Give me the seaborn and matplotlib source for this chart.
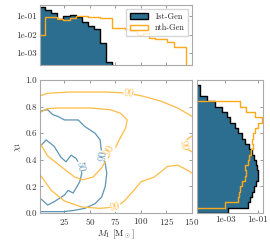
import numpy as np
import pandas as pd
import matplotlib
matplotlib.use("Agg")
import matplotlib.pyplot as plt
import seaborn as sns
from matplotlib.patches import Patch
from matplotlib.ticker import FuncFormatter, FixedLocator, NullLocator

# Histogram data
mass_edges = np.arange(0, 151, 6)
first_mass = [0.29, 0.21, 0.15, 0.069, 0.10, 0.11, 0.092, 0.046, 0.030, 0.019, 0.0035, 0.00036,
              0, 0, 0, 0, 0, 0, 0, 0, 0, 0, 0, 0, 0]
nth_mass = [0.010, 0.092, 0.092, 0.069, 0.061, 0.075, 0.10, 0.10, 0.085, 0.085, 0.075, 0.075,
            0.022, 0.022, 0.019, 0.016, 0.0096, 0.0118, 0.0064, 0.0056, 0.0056, 0.0042, 0.0021, 0.0021, 0]

chi_edges = np.linspace(0, 1, 26)
first_chi = [0.0016, 0.026, 0.033, 0.046, 0.060, 0.075, 0.096, 0.105, 0.083, 0.072, 0.057, 0.041,
             0.028, 0.016, 0.0103, 0.0064, 0.0041, 0.0020, 0.00126, 0.00063, 0.00025, 7.7e-5, 3e-5, 3e-5, 0]
nth_chi = [0, 0.001, 0.0059, 0.0074, 0.0081, 0.0103, 0.016, 0.020, 0.016, 0.025, 0.028, 0.036,
           0.052, 0.041, 0.052, 0.066, 0.105, 0.166, 0.066, 0.020, 0.0081, 0, 0, 0, 0]

# Contour paths (M1, chi1)
first_50 = [(0, 0.49), (7, 0.55), (13.5, 0.51), (15, 0.50), (21.5, 0.42), (26.5, 0.385), (31.5, 0.435),
            (36.5, 0.41), (40, 0.36), (42, 0.30), (40, 0.235), (33.5, 0.15), (28.5, 0.17), (25, 0.135),
            (15, 0.085), (8.5, 0.06), (0, 0.12)]
first_90 = [(0, 0.765), (8.5, 0.777), (13.5, 0.74), (18.5, 0.727), (25, 0.70), (38.5, 0.70), (45, 0.65),
            (55, 0.60), (60, 0.55), (61.5, 0.45), (65, 0.37), (66.5, 0.30), (65, 0.20), (61.5, 0.12),
            (55, 0.07), (45, 0.035), (35, 0.02), (23.5, 0.01), (12, 0.01), (0, 0.01)]
nth_90 = [(0, 0.75), (8, 0.785), (20, 0.79), (50, 0.79), (70, 0.777), (80, 0.75), (86.5, 0.70),
          (85, 0.64), (78, 0.54), (73, 0.46), (66, 0.40), (61, 0.335), (53, 0.27), (43, 0.25),
          (35, 0.27), (21.6, 0.35), (8.4, 0.43), (0, 0.54)]
nth_99_top = [(0, 0.877), (8, 0.90), (30, 0.91), (65, 0.91), (80, 0.905), (88, 0.90), (103, 0.877),
              (120, 0.84), (136, 0.79), (150, 0.727)]
nth_99_right = [(150, 0.58), (143, 0.54), (140, 0.52), (141, 0.50), (150, 0.46)]
nth_99_bottom = [(150, 0.30), (146, 0.32), (136, 0.36), (126, 0.35), (113, 0.27), (100, 0.235),
                 (93, 0.17), (83, 0.085), (75, 0.045), (60, 0.035), (42, 0.045), (25, 0.09),
                 (12, 0.17), (0, 0.30)]

# contour labels: (text, M1, chi1, rotation)
first_labels = [("50", 40.5, 0.35, -80), ("90", 63.0, 0.43, 85)]
nth_labels = [("90", 69.5, 0.47, 62), ("99", 88, 0.90, -5), ("99", 75, 0.045, 12), ("99", 141, 0.51, -80)]

blue = "#2c6e8f"
blue_line = "#5e94b3"
orange = "#ffa81c"
orange_line = "#ffbb45"

sns.set_style("ticks")
plt.rcParams["font.family"] = "serif"
plt.rcParams["font.serif"] = ["cmr10", "DejaVu Serif"]
plt.rcParams["mathtext.fontset"] = "cm"
plt.rcParams["axes.formatter.use_mathtext"] = True
plt.rcParams["font.size"] = 6.5

fig = plt.figure(figsize=(2.7, 2.43), dpi=100)
ax_top = fig.add_axes([0.148, 0.7325, 0.563, 0.248])
ax = fig.add_axes([0.148, 0.1235, 0.563, 0.547])
ax_right = fig.add_axes([0.7296, 0.1235, 0.2444, 0.547])

sci = FuncFormatter(lambda v, p: f"{v:.0e}")

# Top: M1 marginal
top_df = pd.DataFrame({"m": 0.5 * (mass_edges[:-1] + mass_edges[1:]),
                       "first": first_mass, "nth": nth_mass})
sns.histplot(data=top_df, x="m", weights="first", bins=25, binrange=(0, 150), element="step",
             fill=True, color=blue, alpha=1, edgecolor="black", linewidth=1.0, ax=ax_top)
sns.histplot(data=top_df, x="m", weights="nth", bins=25, binrange=(0, 150), element="step",
             fill=False, color=orange, linewidth=1.0, ax=ax_top)
ax_top.set_yscale("log")
ax_top.set_ylim(2.35e-4, 0.4)
ax_top.set_xlim(1, 150)
ax_top.yaxis.set_major_locator(FixedLocator([1e-3, 1e-2, 1e-1]))
ax_top.yaxis.set_minor_locator(NullLocator())
ax_top.yaxis.set_major_formatter(sci)
ax_top.set_xticks([25, 50, 75, 100, 125, 150])
ax_top.set_xticklabels([])
ax_top.set_xlabel("")
ax_top.set_ylabel("")
handles = [Patch(facecolor=blue, edgecolor="black", label="1st-Gen"),
           Patch(facecolor="white", edgecolor=orange, label="nth-Gen")]
ax_top.legend(handles=handles, loc="upper right", fontsize=6, frameon=True, fancybox=False,
              handlelength=2.2, borderpad=0.4, labelspacing=0.4, edgecolor="#cccccc")

# Main: contours
def draw(path, color):
    arr = np.array(path)
    ax.plot(arr[:, 0], arr[:, 1], color=color, lw=0.9)

draw(first_50, blue_line)
draw(first_90, blue_line)
for p in (nth_90, nth_99_top, nth_99_right, nth_99_bottom):
    draw(p, orange_line)
for txt, x, y, r in first_labels:
    ax.text(x, y, txt, color=blue_line, fontsize=7.5, rotation=r, ha="center", va="center",
            bbox=dict(facecolor="white", edgecolor="none", pad=0.0))
for txt, x, y, r in nth_labels:
    ax.text(x, y, txt, color=orange_line, fontsize=7.5, rotation=r, ha="center", va="center",
            bbox=dict(facecolor="white", edgecolor="none", pad=0.0))
ax.set_xlim(1, 150)
ax.set_ylim(0, 1)
ax.set_xticks([25, 50, 75, 100, 125, 150])
ax.set_yticks([0, 0.2, 0.4, 0.6, 0.8, 1.0])
ax.yaxis.set_major_formatter(FuncFormatter(lambda v, p: f"{v:.1f}"))
ax.set_xlabel(r"$M_1$ [M$_\odot$]", labelpad=1)
ax.set_ylabel(r"$\chi_1$", labelpad=2)

# Right: chi1 marginal
right_df = pd.DataFrame({"chi": 0.5 * (chi_edges[:-1] + chi_edges[1:]),
                         "first": first_chi, "nth": nth_chi})
sns.histplot(data=right_df, y="chi", weights="first", bins=25, binrange=(0, 1), element="step",
             fill=True, color=blue, alpha=1, edgecolor="black", linewidth=1.0, ax=ax_right)
sns.histplot(data=right_df, y="chi", weights="nth", bins=25, binrange=(0, 1), element="step",
             fill=False, color=orange, linewidth=1.0, ax=ax_right)
ax_right.set_xscale("log")
ax_right.set_xlim(2e-5, 0.2)
ax_right.set_ylim(0, 1)
ax_right.xaxis.set_major_locator(FixedLocator([1e-3, 1e-1]))
ax_right.xaxis.set_minor_locator(NullLocator())
ax_right.xaxis.set_major_formatter(sci)
ax_right.set_yticks([0, 0.2, 0.4, 0.6, 0.8, 1.0])
ax_right.set_yticklabels([])
ax_right.set_xlabel("")
ax_right.set_ylabel("")

for a in (ax_top, ax, ax_right):
    a.tick_params(direction="in", top=True, right=True, length=2.5, width=0.6,
                  color="#888888", labelcolor="#333333", pad=2, labelsize=6.5)
    for s in a.spines.values():
        s.set_color("#aaaaaa")
        s.set_linewidth(0.8)

fig.savefig("out.png", dpi=100)
